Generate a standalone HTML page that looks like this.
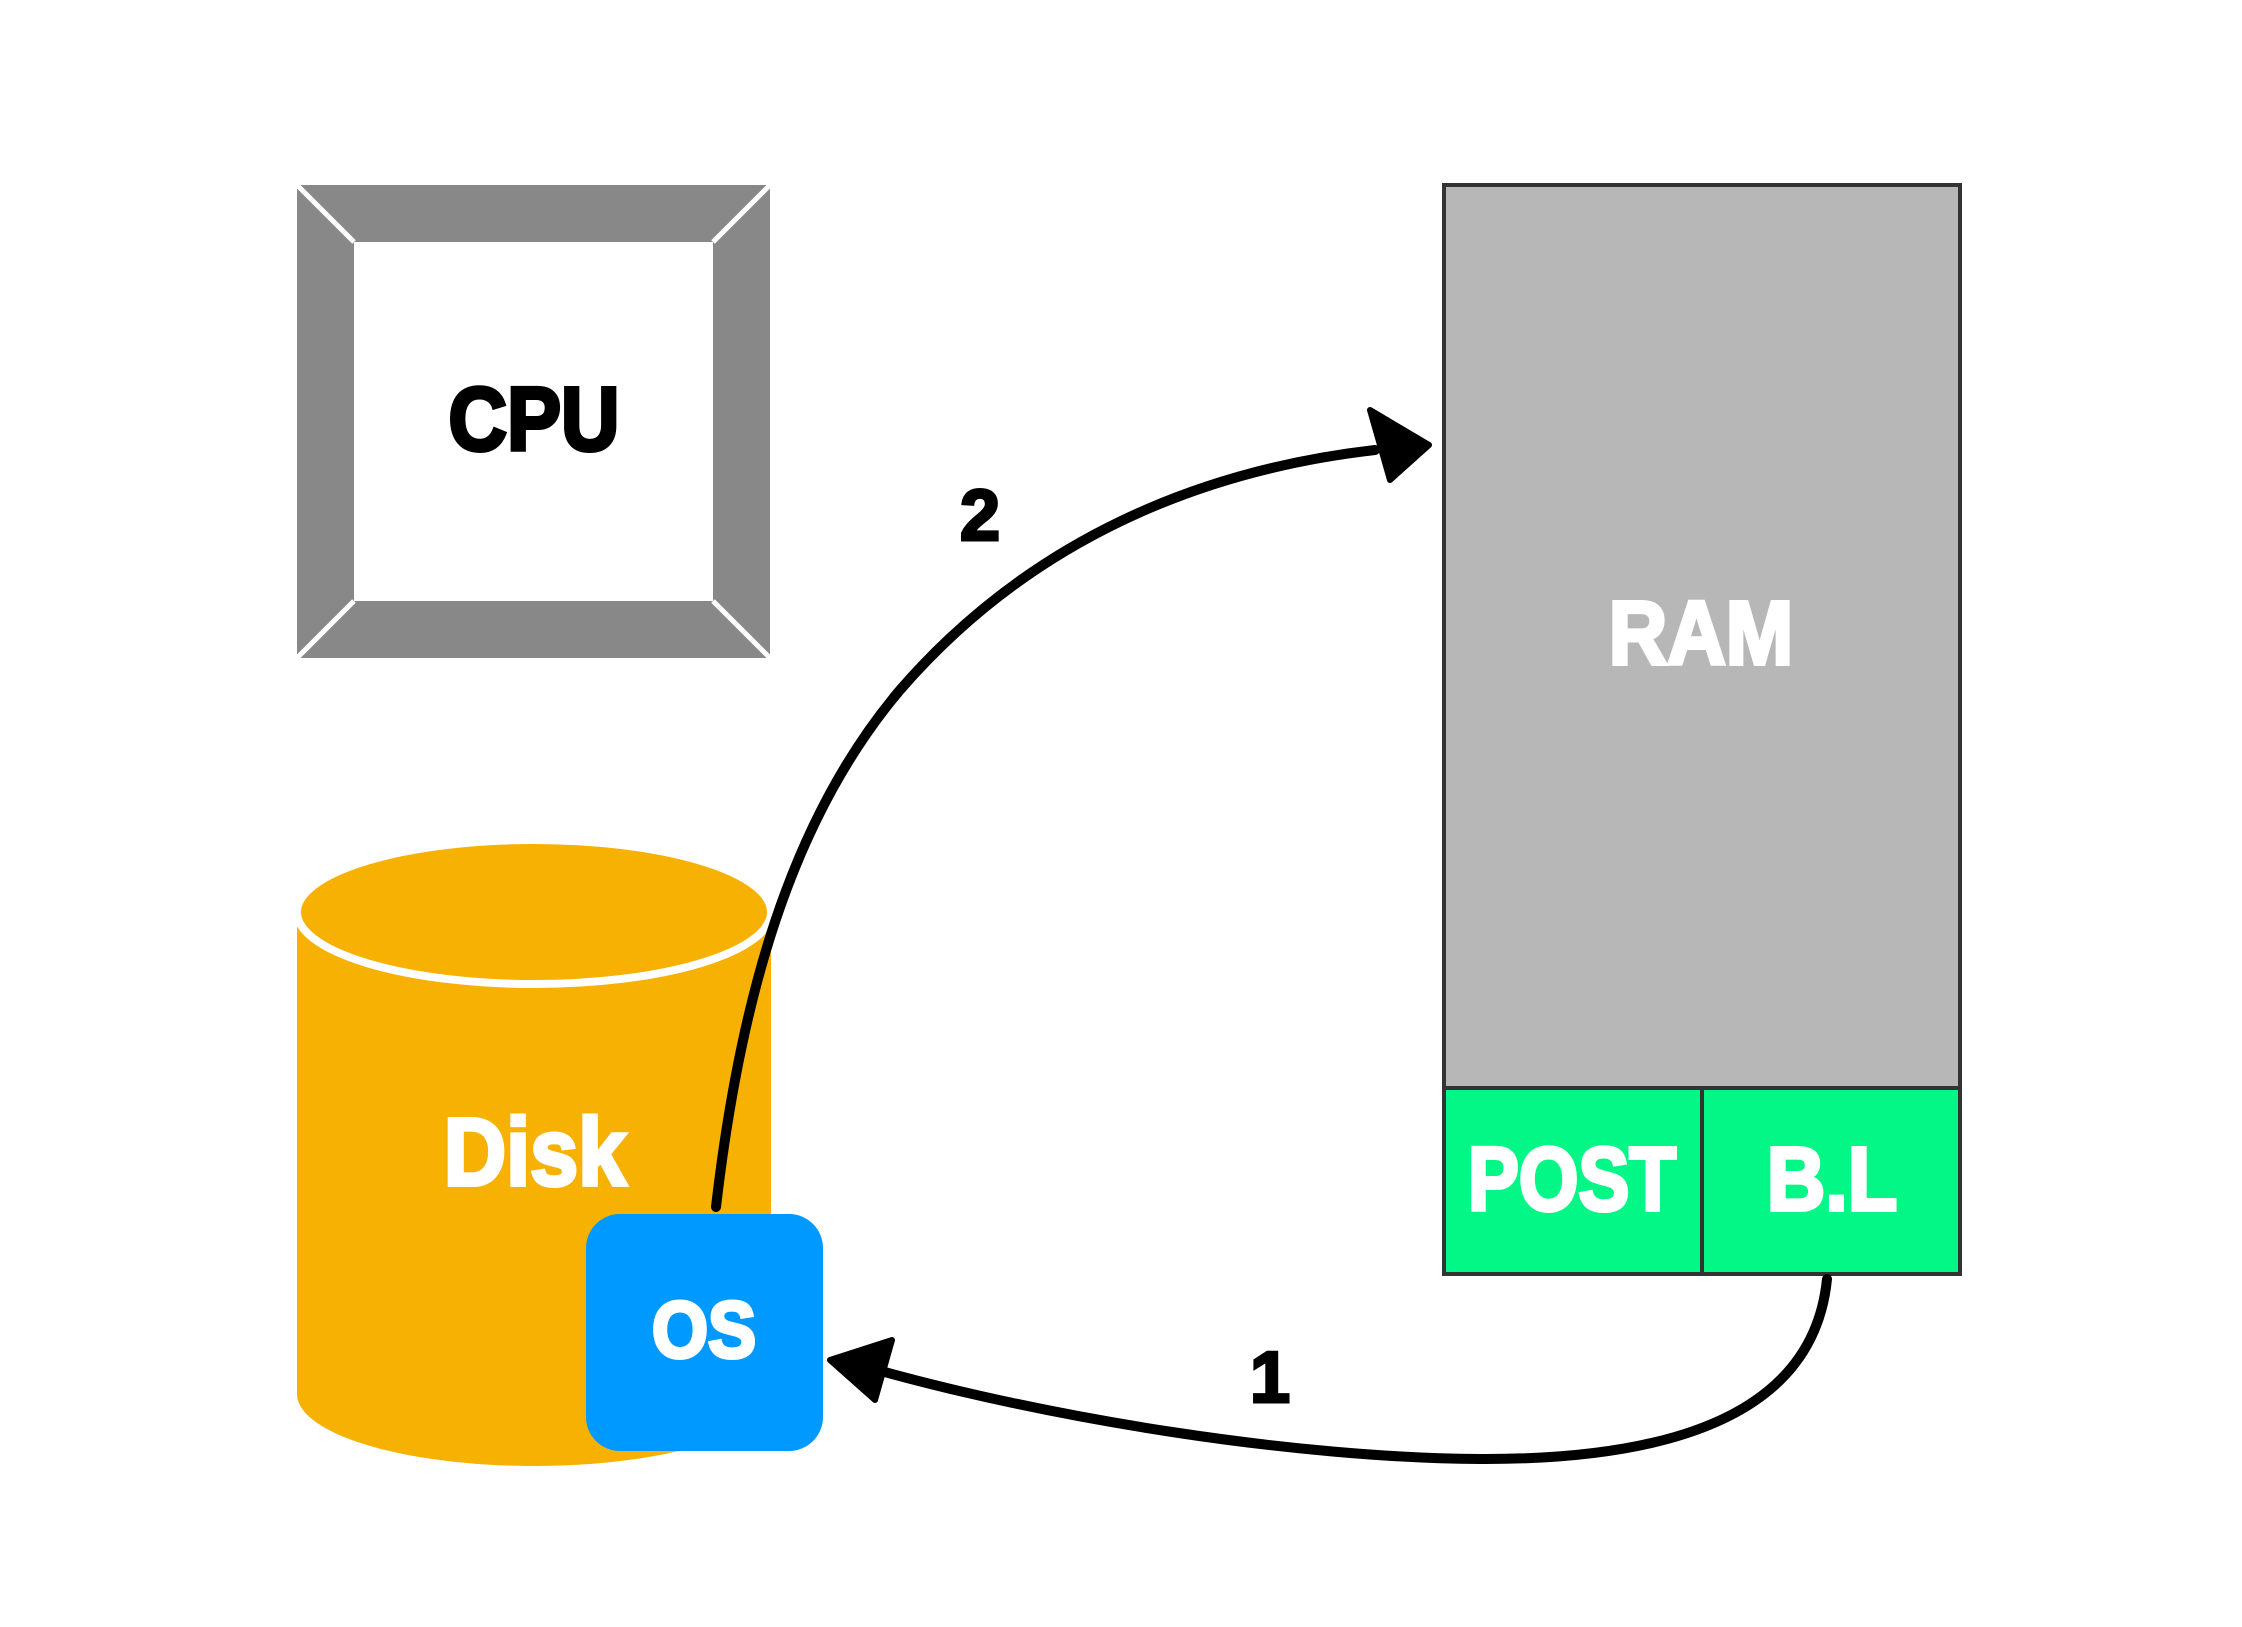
<!DOCTYPE html>
<html><head><meta charset="utf-8"><style>
html,body{margin:0;padding:0;background:#fff;}
body{width:2242px;height:1622px;overflow:hidden;}
text{font-family:"Liberation Sans",sans-serif;font-weight:bold;}
</style></head><body>
<svg width="2242" height="1622" viewBox="0 0 2242 1622" xmlns="http://www.w3.org/2000/svg">
<!-- CPU -->
<polygon points="297,185 770,185 713,242 354,242" fill="#888"/>
<polygon points="297,658 770,658 713,601 354,601" fill="#888"/>
<polygon points="297,185 354,242 354,601 297,658" fill="#888"/>
<polygon points="770,185 713,242 713,601 770,658" fill="#888"/>
<g stroke="#fff" stroke-width="5"><line x1="297" y1="185" x2="354" y2="242"/><line x1="770" y1="185" x2="713" y2="242"/><line x1="297" y1="658" x2="354" y2="601"/><line x1="770" y1="658" x2="713" y2="601"/></g>
<text x="534" y="450" font-size="90" text-anchor="middle" fill="#000" stroke="#000" stroke-width="4" transform="translate(534,0) scale(0.9,1) translate(-534,0)">CPU</text>
<!-- RAM -->
<g transform="translate(-9,0)">
<rect x="1453" y="185" width="516" height="1089" fill="#b7b7b7" stroke="#333" stroke-width="4"/>
<rect x="1453" y="1088" width="516" height="186" fill="#03f786" stroke="#333" stroke-width="4"/>
<line x1="1711" y1="1088" x2="1711" y2="1274" stroke="#333" stroke-width="4"/>
<text x="1710" y="664" font-size="90" text-anchor="middle" fill="#fff" stroke="#fff" stroke-width="4" transform="translate(1710,0) scale(0.9,1) translate(-1710,0)">RAM</text>
<text x="1581" y="1210" font-size="90" text-anchor="middle" fill="#fff" stroke="#fff" stroke-width="4" transform="translate(1581,0) scale(0.85,1) translate(-1581,0)">POST</text>
<text x="1841" y="1210" font-size="90" text-anchor="middle" fill="#fff" stroke="#fff" stroke-width="4" transform="translate(1841,0) scale(0.9,1) translate(-1841,0)">B.L</text>
</g>
<!-- Disk -->
<path d="M297,912 L297,1394 A237,72 0 0 0 771,1394 L771,912 Z" fill="#f7b103"/>
<ellipse cx="534" cy="912" rx="237" ry="72" fill="#f7b103" stroke="#fff" stroke-width="8"/>
<text x="535" y="1185" font-size="96" text-anchor="middle" fill="#fff" stroke="#fff" stroke-width="4" transform="translate(535,0) scale(0.9,1) translate(-535,0)">Disk</text>
<rect x="586" y="1214" width="237" height="237" rx="34" fill="#0099ff"/>
<text x="704" y="1357" font-size="80" text-anchor="middle" fill="#fff" stroke="#fff" stroke-width="4" transform="translate(704,0) scale(0.9,1) translate(-704,0)">OS</text>
<!-- arrows -->
<g fill="none" stroke="#000" stroke-width="10" stroke-linecap="round">
<path d="M716,1207 C740,1000 790,820 900,690 C1030,540 1200,470 1375,450"/>
<path d="M1827,1279 C1815,1400 1700,1460 1480,1459 C1300,1458 1050,1420 860,1365"/>
</g>
<polygon points="1429,445 1370,410 1390,480" fill="#000" stroke="#000" stroke-width="6" stroke-linejoin="round"/>
<polygon points="830,1360 892,1340 875,1400" fill="#000" stroke="#000" stroke-width="6" stroke-linejoin="round"/>
<text x="980" y="540" font-size="72" text-anchor="middle" fill="#000" stroke="#000" stroke-width="3">2</text>
<text x="1270" y="1402" font-size="72" text-anchor="middle" fill="#000" stroke="#000" stroke-width="3">1</text>
</svg>
</body></html>
